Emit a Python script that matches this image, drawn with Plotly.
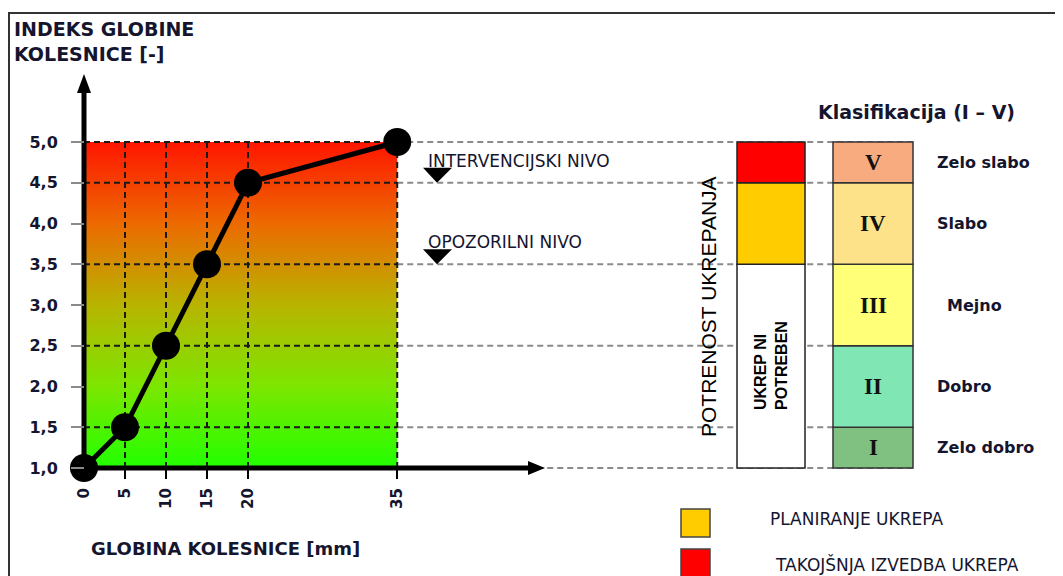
import plotly.graph_objects as go

# ---------------- data ----------------
depth_mm = [0, 5, 10, 15, 20, 35]
depth_axis_pos = [0, 5, 10, 15, 20, 38.2]      # broken (non-linear) spacing of the drawn axis
index_values = [1.0, 1.5, 2.5, 3.5, 4.5, 5.0]

y_ticks = [1.0, 1.5, 2.0, 2.5, 3.0, 3.5, 4.0, 4.5, 5.0]
y_ticktext = ["1,0", "1,5", "2,0", "2,5", "3,0", "3,5", "4,0", "4,5", "5,0"]

class_bounds = [1.0, 1.5, 2.5, 3.5, 4.5, 5.0]
class_labels = ["I", "II", "III", "IV", "V"]
class_names = ["Zelo dobro", "Dobro", "Mejno", "Slabo", "Zelo slabo"]
class_colors = ["#80c080", "#80e6b4", "#ffff78", "#fde28a", "#f9ab80"]

action_bounds = [1.0, 3.5, 4.5, 5.0]
action_colors = ["#ffffff", "#ffcc00", "#ff0000"]

threshold_levels = [4.5, 3.5]
threshold_names = ["INTERVENCIJSKI NIVO", "OPOZORILNI NIVO"]

legend_labels = ["PLANIRANJE UKREPA", "TAKOJŠNJA IZVEDBA UKREPA"]
legend_colors = ["#ffcc00", "#ff0000"]

W, H = 1063, 576
OFF = 8                    # page margin around the figure
PX_X, ORG_X = 8.2, 84      # px per x-unit, screen px of x origin
PX_Y, ORG_Y = 81.5, 468    # px per y-unit, screen px of y=1.0


def X(px):
    return (px - ORG_X) / PX_X


def Y(py):
    return 1 + (ORG_Y - py) / PX_Y


TXT = "#15152e"
fig = go.Figure()

x_min, x_max = depth_axis_pos[0], depth_axis_pos[-1]
y_min, y_max = index_values[0], index_values[-1]

# gradient area
fig.add_trace(go.Scatter(
    x=[x_min, x_max, x_max, x_min, x_min], y=[y_min, y_min, y_max, y_max, y_min],
    mode="lines", line=dict(width=0), fill="toself",
    fillgradient=dict(type="vertical", start=y_min, stop=y_max,
                      colorscale=[[0, "#22ff00"], [0.25, "#7ce600"], [0.5, "#b8b400"],
                                  [0.75, "#ec6a00"], [1, "#ff1500"]]),
    hoverinfo="skip", showlegend=False))

# dashed guide lines
dark_x, dark_y, grey_x, grey_y = [], [], [], []
for lv in class_bounds:
    dark_x += [x_min, x_max, None]
    dark_y += [lv, lv, None]
    grey_x += [x_max, X(913), None]
    grey_y += [lv, lv, None]
for p in depth_axis_pos[1:]:
    dark_x += [p, p, None]
    dark_y += [y_min, y_max, None]
fig.add_trace(go.Scatter(x=grey_x, y=grey_y, mode="lines",
                         line=dict(color="#8a8a8a", width=2, dash="6px,4px"),
                         hoverinfo="skip", showlegend=False))
fig.add_trace(go.Scatter(x=dark_x, y=dark_y, mode="lines",
                         line=dict(color="#1a1a1a", width=2, dash="6px,4px"),
                         hoverinfo="skip", showlegend=False))

# thick axis lines
fig.add_trace(go.Scatter(x=[0, 0, None, 0, X(532)], y=[Y(90), y_min, None, y_min, y_min],
                         mode="lines", line=dict(color="black", width=5),
                         hoverinfo="skip", showlegend=False))

# data line
fig.add_trace(go.Scatter(x=depth_axis_pos, y=index_values, mode="lines+markers",
                         line=dict(color="black", width=5),
                         marker=dict(color="black", size=28),
                         cliponaxis=False, showlegend=False,
                         customdata=depth_mm,
                         hovertemplate="%{customdata} mm: %{y}<extra></extra>"))

shapes = []
# arrow heads
shapes.append(dict(type="path", xref="x", yref="y", fillcolor="black", line=dict(width=0),
                   path=f"M {X(77)},{Y(93)} L {X(91)},{Y(93)} L 0,{Y(74)} Z"))
shapes.append(dict(type="path", xref="x", yref="y", fillcolor="black", line=dict(width=0),
                   path=f"M {X(528)},{Y(461)} L {X(528)},{Y(475)} L {X(545)},{y_min} Z"))

# threshold triangles
for lv in threshold_levels:
    shapes.append(dict(type="path", xref="x", yref="y", fillcolor="black", line=dict(width=0),
                       path=f"M {X(423)},{lv + 15 / PX_Y} L {X(452)},{lv + 15 / PX_Y} L {X(437)},{lv} Z"))

# action column
for i, c in enumerate(action_colors):
    shapes.append(dict(type="rect", xref="x", yref="y", x0=X(737), x1=X(805),
                       y0=action_bounds[i], y1=action_bounds[i + 1],
                       fillcolor=c, line=dict(color="#222", width=1.5)))
# classification column
for i, c in enumerate(class_colors):
    shapes.append(dict(type="rect", xref="x", yref="y", x0=X(833), x1=X(913),
                       y0=class_bounds[i], y1=class_bounds[i + 1],
                       fillcolor=c, line=dict(color="#333", width=1.5)))
# legend squares
for i, c in enumerate(legend_colors):
    top = 509 + i * 40
    shapes.append(dict(type="rect", xref="x", yref="y", x0=X(681), x1=X(710),
                       y0=Y(top + 28), y1=Y(top),
                       fillcolor=c, line=dict(color="#444", width=1.5)))
# frame (top and left edges)
shapes.append(dict(type="line", xref="x", yref="y", x0=X(8), x1=X(1063), y0=Y(13), y1=Y(13),
                   line=dict(color="#333", width=2)))
shapes.append(dict(type="line", xref="x", yref="y", x0=X(9), x1=X(9), y0=Y(13), y1=Y(590),
                   line=dict(color="#333", width=2)))

ann = []
BOLD = dict(family="DejaVu Sans", weight="bold", color=TXT)
ann.append(dict(x=X(12), y=Y(41), xref="x", yref="y", xanchor="left", yanchor="middle",
                text="INDEKS GLOBINE<br>KOLESNICE [-]", align="left", showarrow=False,
                font=dict(size=19, **BOLD)))
ann.append(dict(x=X(225), y=Y(548), xref="x", yref="y", xanchor="center", yanchor="middle",
                text="GLOBINA KOLESNICE [mm]", showarrow=False, font=dict(size=18, **BOLD)))
for lv, name in zip(threshold_levels, threshold_names):
    ann.append(dict(x=X(426), y=lv + 22 / PX_Y, xref="x", yref="y", xanchor="left", yanchor="middle",
                    text=name, showarrow=False,
                    font=dict(family="DejaVu Sans", size=17, color=TXT)))
ann.append(dict(x=X(708), y=Y(307), xref="x", yref="y", xanchor="center", yanchor="middle",
                text="POTRENOST UKREPANJA", textangle=-90, showarrow=False,
                font=dict(family="Liberation Sans", size=21, color="black")))
ann.append(dict(x=X(771), y=Y(366), xref="x", yref="y", xanchor="center", yanchor="middle",
                text="UKREP NI<br>POTREBEN", textangle=-90, align="left", showarrow=False,
                font=dict(family="Liberation Sans", size=16, weight="bold", color="black")))
ann.append(dict(x=X(916), y=Y(112), xref="x", yref="y", xanchor="center", yanchor="middle",
                text="Klasifikacija (I – V)", showarrow=False, font=dict(size=19, **BOLD)))
for i, lab in enumerate(class_labels):
    mid = (class_bounds[i] + class_bounds[i + 1]) / 2
    ann.append(dict(x=X(873), y=mid, xref="x", yref="y", xanchor="center", yanchor="middle",
                    text=lab, showarrow=False,
                    font=dict(family="Liberation Serif", size=23, weight="bold", color="#111")))
    ann.append(dict(x=X(945 if lab == "III" else 935), y=mid, xref="x", yref="y",
                    xanchor="left", yanchor="middle", text=class_names[i], showarrow=False,
                    font=dict(size=16, **BOLD)))
for i, lab in enumerate(legend_labels):
    ann.append(dict(x=X(768 + 5 * i), y=Y(519 + 45 * i), xref="x", yref="y",
                    xanchor="left", yanchor="middle", text=lab, showarrow=False,
                    font=dict(family="DejaVu Sans", size=17, color=TXT)))

fig.update_layout(
    width=W, height=H, margin=dict(l=0, r=0, t=0, b=0),
    paper_bgcolor="white", plot_bgcolor="white",
    shapes=shapes, annotations=ann, showlegend=False,
    xaxis=dict(range=[X(OFF), X(OFF + W)], anchor="free", position=(OFF + H - ORG_Y) / H,
               showgrid=False, zeroline=False, showline=False,
               tickmode="array", tickvals=depth_axis_pos, ticktext=[str(d) for d in depth_mm],
               ticks="outside", ticklen=10, tickwidth=2, tickcolor="black",
               tickangle=-90, ticklabelstandoff=3,
               tickfont=dict(family="DejaVu Sans", size=15, weight="bold", color=TXT)),
    yaxis=dict(range=[Y(OFF + H), Y(OFF)], anchor="free", position=(ORG_X - OFF) / W,
               showgrid=False, zeroline=False, showline=False,
               tickmode="array", tickvals=y_ticks, ticktext=y_ticktext,
               ticks="outside", ticklen=13, tickwidth=2, tickcolor="#8a8a8a",
               ticklabelstandoff=10,
               tickfont=dict(family="DejaVu Sans", size=16, weight="bold", color=TXT)),
)

fig.write_html("out.html")
